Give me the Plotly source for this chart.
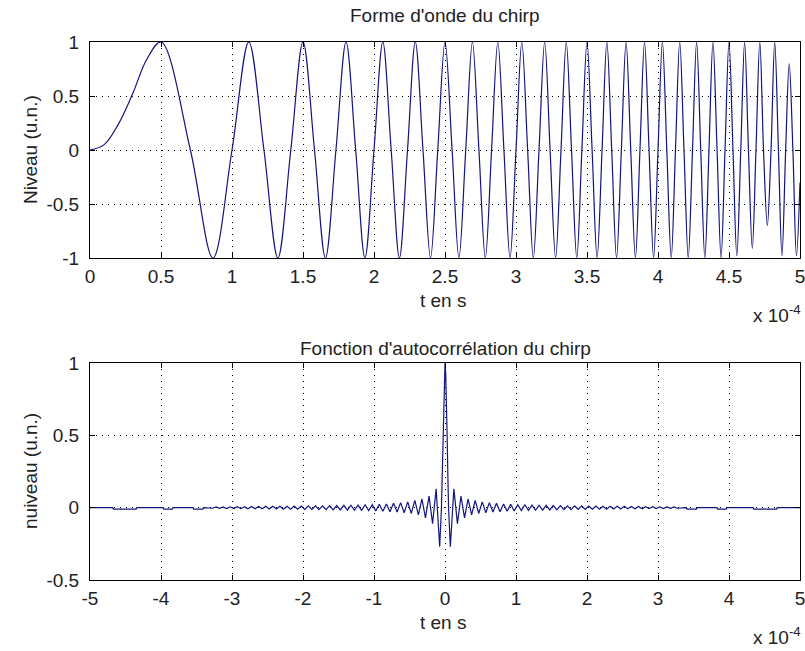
import plotly.graph_objects as go

# ---------------- data (time in units of 1e-4 s) ----------------
# Chirp waveform: points (start of curve, then
# successive peaks / zero crossings / troughs)
chirp_t = [0.0, 0.1, 0.2, 0.3, 0.4, 0.5, 0.707, 0.866, 1.0, 1.118, 1.225, 1.323,
           1.414, 1.5, 1.581, 1.658, 1.732, 1.803, 1.871, 1.936, 2.0, 2.062,
           2.121, 2.179, 2.236, 2.291, 2.345, 2.398, 2.449, 2.5, 2.55, 2.598,
           2.646, 2.693, 2.739, 2.784, 2.828, 2.872, 2.915, 2.958, 3.0, 3.041,
           3.082, 3.122, 3.162, 3.202, 3.24, 3.279, 3.317, 3.354, 3.391, 3.428,
           3.464, 3.5, 3.536, 3.571, 3.606, 3.64, 3.674, 3.708, 3.742, 3.775,
           3.808, 3.841, 3.873, 3.905, 3.937, 3.969, 4.0, 4.031, 4.062, 4.093,
           4.123, 4.153, 4.183, 4.213, 4.243, 4.272, 4.301, 4.33, 4.359, 4.387,
           4.416, 4.444, 4.472, 4.5, 4.528, 4.555, 4.583, 4.61, 4.637, 4.664,
           4.69, 4.717, 4.743, 4.77, 4.796, 4.822, 4.848, 4.873, 4.899, 4.924,
           4.95, 4.975, 5.0]
chirp_v = [0.0, 0.05, 0.24, 0.52, 0.84, 1.0, 0.0, -1.0, 0.0, 1.0, 0.0, -1.0,
           0.0, 1.0, 0.0, -1.0, 0.0, 1.0, 0.0, -1.0, 0.0, 1.0,
           0.0, -1.0, 0.0, 1.0, 0.0, -1.0, 0.0, 1.0, 0.0, -1.0,
           0.0, 1.0, 0.0, -1.0, 0.0, 1.0, 0.0, -1.0, 0.0, 1.0,
           0.0, -1.0, 0.0, 1.0, 0.0, -1.0, 0.0, 1.0, 0.0, -1.0,
           0.0, 1.0, 0.0, -1.0, 0.0, 1.0, 0.0, -1.0, 0.0, 1.0,
           0.0, -1.0, 0.0, 1.0, 0.0, -1.0, 0.0, 1.0, 0.0, -1.0,
           0.0, 1.0, 0.0, -1.0, 0.0, 1.0, 0.0, -1.0, 0.0, 1.0,
           0.0, -1.0, 0.0, 1.0, 0.0, -0.98, 0.0, 1.0, 0.0, -0.91,
           0.0, 1.0, 0.0, -0.7, 0.0, 1.0, 0.0, -0.98, 0.0, 0.8,
           0.0, -0.98, -0.3]

# Autocorrelation (even function): positive-lag points
acf_lag_pos = [0.01, 0.02, 0.03, 0.04, 0.05,
               0.075, 0.125, 0.175, 0.225, 0.275, 0.325, 0.375, 0.425, 0.475, 0.525,
               0.575, 0.625, 0.675, 0.725, 0.775, 0.825, 0.875, 0.925, 0.975, 1.025,
               1.075, 1.125, 1.175, 1.225, 1.275, 1.325, 1.375, 1.425, 1.475, 1.525,
               1.575, 1.625, 1.675, 1.725, 1.775, 1.825, 1.875, 1.925, 1.975, 2.025,
               2.075, 2.125, 2.175, 2.225, 2.275, 2.325, 2.375, 2.425, 2.475, 2.525,
               2.575, 2.625, 2.675, 2.725, 2.775, 2.825, 2.875, 2.925, 2.975, 3.025,
               3.075, 3.125, 3.175, 3.225, 3.275,
               3.33, 3.40, 3.41, 3.54, 3.55, 3.83, 3.84, 3.96, 3.97,
               4.34, 4.35, 4.67, 4.68, 5.0]
acf_val_pos = [0.93, 0.76, 0.50, 0.23, 0.0,
               -0.27, 0.13, -0.11, 0.08, -0.07, 0.06, -0.05, 0.05, -0.04, 0.04,
               -0.035, 0.035, -0.03, 0.03, -0.028, 0.026, -0.025, 0.024, -0.022, 0.021,
               -0.02, 0.02, -0.019, 0.018, -0.018, 0.017, -0.017, 0.016, -0.016, 0.015,
               -0.015, 0.014, -0.014, 0.013, -0.013, 0.013, -0.012, 0.012, -0.012, 0.011,
               -0.011, 0.011, -0.01, 0.01, -0.01, 0.01, -0.009, 0.009, -0.009, 0.009,
               -0.008, 0.008, -0.008, 0.008, -0.007, 0.007, -0.007, 0.007, -0.006, 0.006,
               -0.006, 0.005, -0.005, 0.005, -0.004,
               0.0, 0.0, -0.01, -0.01, 0.0, 0.0, -0.01, -0.01, 0.0,
               0.0, -0.01, -0.01, 0.0, 0.0]
acf_peak = 1.0

top_xticks = [0, 0.5, 1, 1.5, 2, 2.5, 3, 3.5, 4, 4.5, 5]
top_xlabels = ['0', '0.5', '1', '1.5', '2', '2.5', '3', '3.5', '4', '4.5', '5']
top_yticks = [-1, -0.5, 0, 0.5, 1]
top_ylabels = ['-1', '-0.5', '0', '0.5', '1']
bot_xticks = [-5, -4, -3, -2, -1, 0, 1, 2, 3, 4, 5]
bot_xlabels = ['-5', '-4', '-3', '-2', '-1', '0', '1', '2', '3', '4', '5']
bot_yticks = [-0.5, 0, 0.5, 1]
bot_ylabels = ['-0.5', '0', '0.5', '1']

acf_lag = [-v for v in reversed(acf_lag_pos)] + [0.0] + acf_lag_pos
acf_val = list(reversed(acf_val_pos)) + [acf_peak] + acf_val_pos

# ---------------- figure ----------------
W, H = 805, 651
LINE = '#14147e'
FONT = 'Liberation Sans'
FS = 19
TXT = '#222'

fig = go.Figure()
fig.add_trace(go.Scatter(x=chirp_t, y=chirp_v, mode='lines', xaxis='x', yaxis='y',
                         line=dict(color=LINE, width=1.2, shape='spline', smoothing=1.0),
                         showlegend=False, hoverinfo='skip'))
fig.add_trace(go.Scatter(x=acf_lag, y=acf_val, mode='lines', xaxis='x2', yaxis='y2',
                         line=dict(color=LINE, width=1.2),
                         showlegend=False, hoverinfo='skip'))

def px(x):
    return x / W

def py(y):
    return 1 - y / H

common = dict(showline=True, linecolor='black', linewidth=1, mirror='ticks',
              ticks='inside', ticklen=5, tickcolor='black', tickwidth=1,
              showgrid=True, gridcolor='black', griddash='1px,5px', gridwidth=1,
              zeroline=False, automargin=False, ticklabeloverflow='allow',
              tickfont=dict(family=FONT, size=FS, color=TXT))

L, R = 90, 800
fig.update_layout(
    width=W, height=H, margin=dict(l=0, r=0, t=0, b=0),
    paper_bgcolor='white', plot_bgcolor='white',
    xaxis=dict(domain=[px(L), px(R)], range=[0, 5], tickvals=top_xticks,
               ticktext=top_xlabels, anchor='y', ticklabelstandoff=1, **common),
    yaxis=dict(domain=[py(258), py(42)], range=[-1, 1], tickvals=top_yticks,
               ticktext=top_ylabels, anchor='x', ticklabelstandoff=6, **common),
    xaxis2=dict(domain=[px(L), px(R)], range=[-5, 5], tickvals=bot_xticks,
                ticktext=bot_xlabels, anchor='y2', ticklabelstandoff=1, **common),
    yaxis2=dict(domain=[py(580), py(363)], range=[-0.5, 1], tickvals=bot_yticks,
                ticktext=bot_ylabels, anchor='x2', ticklabelstandoff=6, **common),
)

def txt(x, y, s, angle=0, xanchor='center', size=FS):
    fig.add_annotation(x=px(x), y=py(y), xref='paper', yref='paper', text=s,
                       showarrow=False, textangle=angle, xanchor=xanchor,
                       yanchor='middle', font=dict(family=FONT, size=size, color=TXT))

txt(445, 15, "Forme d'onde du chirp")
txt(443, 300, "t en s")
txt(30, 150, "Niveau (u.n.)", angle=-90)
txt(803, 314, "x 10<sup>-4</sup>", xanchor='right')
txt(445, 348, "Fonction d'autocorrélation du chirp")
txt(443, 622, "t en s")
txt(30, 471, "nuiveau (u.n.)", angle=-90)
txt(803, 636, "x 10<sup>-4</sup>", xanchor='right')

fig.write_html("out.html")
